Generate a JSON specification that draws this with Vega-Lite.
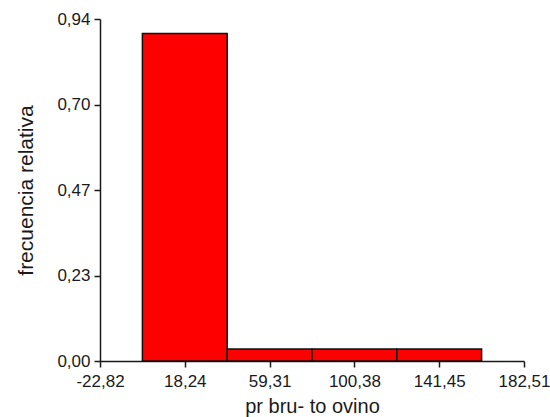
{
  "$schema": "https://vega.github.io/schema/vega-lite/v6.json",
  "width": 424,
  "height": 342,
  "autosize": {"type": "none"},
  "padding": {"left": 100, "top": 19, "right": 26, "bottom": 56},
  "background": "white",
  "config": {
    "view": {"stroke": null},
    "font": "Liberation Sans"
  },
  "data": {
    "values": [
      {"desde": -2.29, "hasta": 38.77, "frecuencia": 0.9},
      {"desde": 38.77, "hasta": 79.84, "frecuencia": 0.0333},
      {"desde": 79.84, "hasta": 120.91, "frecuencia": 0.0333},
      {"desde": 120.91, "hasta": 161.98, "frecuencia": 0.0333}
    ]
  },
  "mark": {"type": "rect", "fill": "#ff0000", "stroke": "#111111", "strokeWidth": 1.5},
  "encoding": {
    "x": {
      "field": "desde",
      "type": "quantitative",
      "scale": {"domain": [-22.82, 182.51], "nice": false, "zero": false},
      "axis": {
        "title": "pr bru- to ovino",
        "values": [-22.82, 18.24, 59.31, 100.38, 141.45, 182.51],
        "labelExpr": "replace(replace(format(datum.value, '.2f'), '.', ','), '\u2212', '-')",
        "grid": false,
        "domainColor": "#1a1a1a",
        "domainWidth": 1.5,
        "tickColor": "#1a1a1a",
        "tickWidth": 1.5,
        "tickSize": 6,
        "labelPadding": 6,
        "labelFontSize": 17,
        "labelColor": "#1a1a1a",
        "labelFlush": false,
        "labelOverlap": false,
        "titleFontSize": 20,
        "titleFontWeight": "normal",
        "titleColor": "#1a1a1a",
        "titleBaseline": "alphabetic",
        "titleY": 51
      }
    },
    "x2": {"field": "hasta"},
    "y": {
      "field": "frecuencia",
      "type": "quantitative",
      "scale": {"domain": [0, 0.94], "nice": false},
      "axis": {
        "title": "frecuencia relativa",
        "values": [0, 0.235, 0.47, 0.705, 0.94],
        "labelExpr": "datum.value < 0.1 ? '0,00' : datum.value < 0.3 ? '0,23' : datum.value < 0.6 ? '0,47' : datum.value < 0.8 ? '0,70' : '0,94'",
        "grid": false,
        "domainColor": "#1a1a1a",
        "domainWidth": 1.5,
        "tickColor": "#1a1a1a",
        "tickWidth": 1.5,
        "tickSize": 6,
        "labelPadding": 4,
        "labelFontSize": 17,
        "labelColor": "#1a1a1a",
        "labelFlush": false,
        "labelOverlap": false,
        "titleFontSize": 21,
        "titleFontWeight": "normal",
        "titleColor": "#1a1a1a",
        "titleBaseline": "alphabetic",
        "titleX": -68
      }
    },
    "y2": {"datum": 0}
  }
}
